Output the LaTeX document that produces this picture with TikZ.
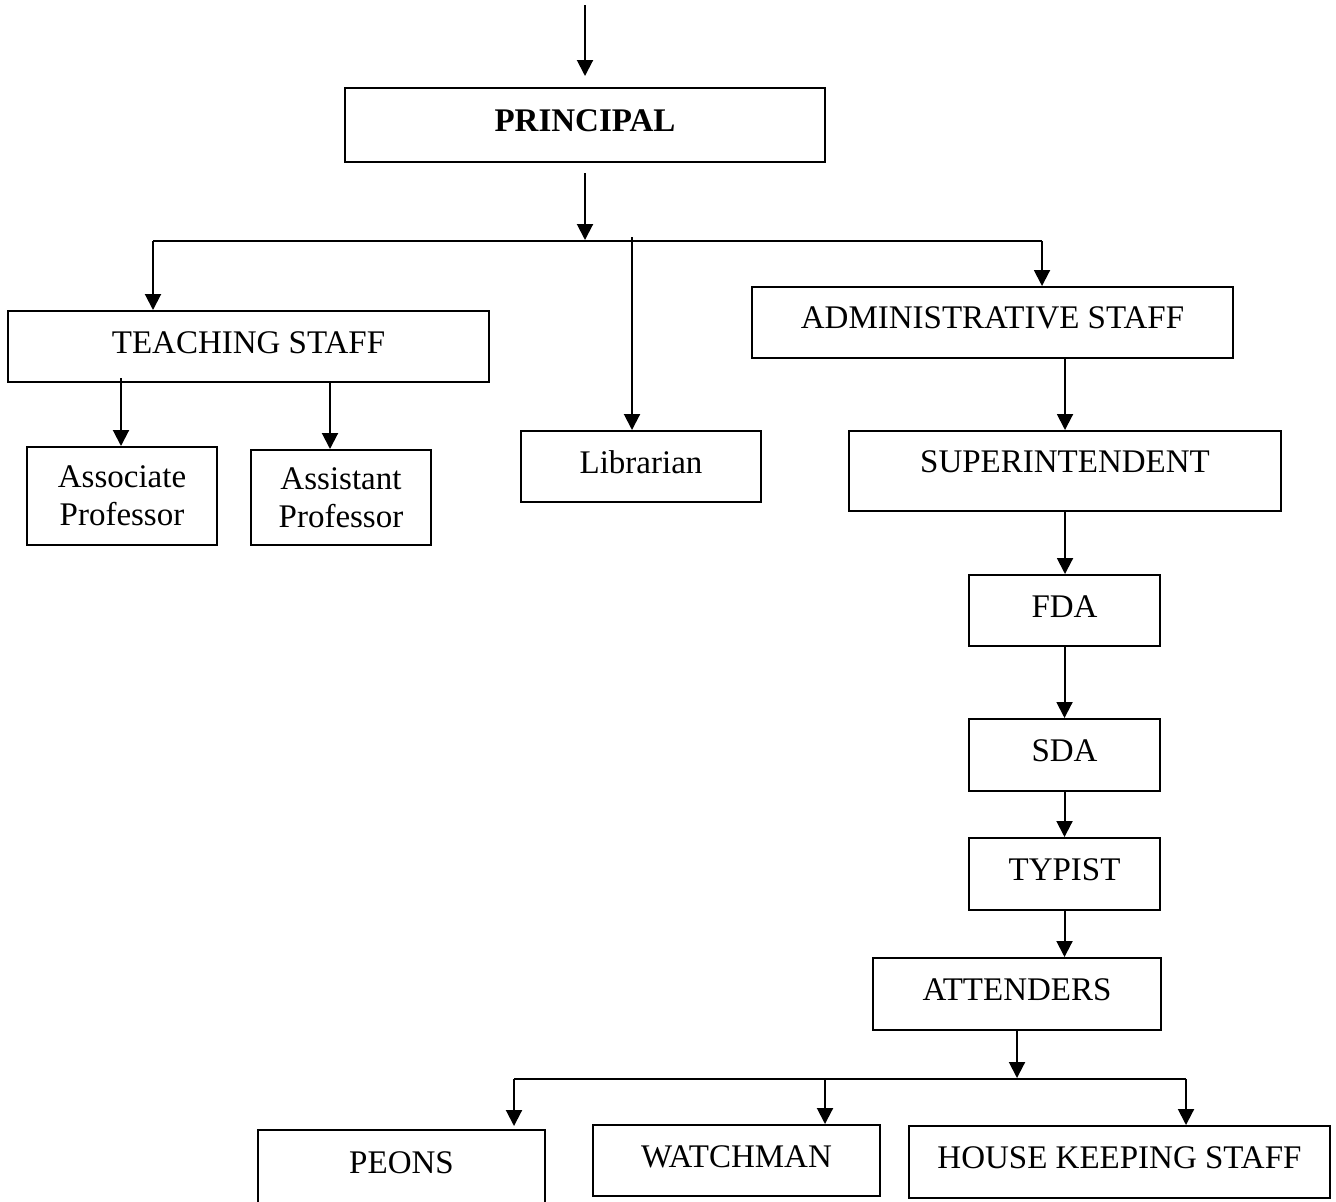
\documentclass[tikz,border=0pt]{standalone}
\usepackage{fontspec}
\setmainfont{Liberation Serif}
\usetikzlibrary{arrows.meta}
\tikzset{
  box/.style={draw,line width=1pt,inner sep=0pt,text height=11pt,text depth=4.5pt},
  twoline/.style={draw,line width=1pt,inner sep=0pt,align=center},
  link/.style={line width=1pt},
  arr/.style={line width=1pt,-{Triangle[length=8pt,width=8pt]}}
}
\begin{document}
\begin{tikzpicture}[x=0.5pt,y=-0.5pt,font=\fontsize{16.5}{19}\selectfont]
\useasboundingbox (0,0) rectangle (1336,1201);
\node[box,minimum width=240pt,minimum height=37pt] (prin) at (585,125) {\textbf{PRINCIPAL}};
\node[box,minimum width=240.5pt,minimum height=35.5pt] (teach) at (248.5,346.5) {TEACHING STAFF};
\node[twoline,minimum width=95pt,minimum height=49pt] (assoc) at (122,496) {Associate\\Professor};
\node[twoline,minimum width=90pt,minimum height=47.5pt] (assist) at (341,497.5) {Assistant\\Professor};
\node[box,minimum width=120pt,minimum height=35.5pt] (lib) at (641,466.5) {Librarian};
\node[box,minimum width=240.5pt,minimum height=35.5pt,text depth=5.5pt] (admin) at (992.5,322.5) {ADMINISTRATIVE STAFF};
\node[box,minimum width=216pt,minimum height=40pt,text depth=10pt] (sup) at (1065,471) {SUPERINTENDENT};
\node[box,minimum width=95.5pt,minimum height=35.5pt] (fda) at (1064.5,610.5) {FDA};
\node[box,minimum width=95.5pt,minimum height=36pt] (sda) at (1064.5,755) {SDA};
\node[box,minimum width=95.5pt,minimum height=36pt] (typ) at (1064.5,874) {TYPIST};
\node[box,minimum width=144pt,minimum height=36pt] (att) at (1017,994) {ATTENDERS};
\node[box,minimum width=143.5pt,minimum height=36.5pt] (peons) at (401.5,1166.5) {PEONS};
\node[box,minimum width=143.5pt,minimum height=35.5pt] (watch) at (736.5,1160.5) {WATCHMAN};
\node[box,minimum width=210.5pt,minimum height=36pt] (house) at (1119.5,1162) {HOUSE KEEPING STAFF};
\coordinate (top) at (585,5);
\coordinate (hub) at (585,240);
\coordinate (lt) at (153,241);
\coordinate (rt) at (1042,241);
\coordinate (lb) at (632,237);
\coordinate (ta) at (121,378);
\coordinate (tb) at (330,382);
\coordinate (hub2) at (1017,1078);
\coordinate (l2) at (514,1079);
\coordinate (m2) at (825,1079);
\coordinate (r2) at (1186,1079);
\draw[arr,shorten >=5.5pt] (top) -- (prin.north);
\draw[arr,shorten <=5pt] (prin.south) -- (hub);
\draw[link] (lt) -- (rt);
\draw[arr] (lt) -- (lt |- teach.north);
\draw[arr] (lb) -- (lb |- lib.north);
\draw[arr] (rt) -- (rt |- admin.north);
\draw[arr] (ta) -- (ta |- assoc.north);
\draw[arr] (tb) -- (tb |- assist.north);
\draw[arr] (admin.south -| sup.north) -- (sup.north);
\draw[arr] (sup.south) -- (sup.south |- fda.north);
\draw[arr] (fda.south) -- (sda.north);
\draw[arr] (sda.south) -- (typ.north);
\draw[arr] (typ.south) -- (typ.south |- att.north);
\draw[arr] (att.south) -- (hub2);
\draw[link] (l2) -- (r2);
\draw[arr,shorten >=1.5pt] (l2) -- (l2 |- peons.north);
\draw[arr] (m2) -- (m2 |- watch.north);
\draw[arr] (r2) -- (r2 |- house.north);
\end{tikzpicture}
\end{document}
